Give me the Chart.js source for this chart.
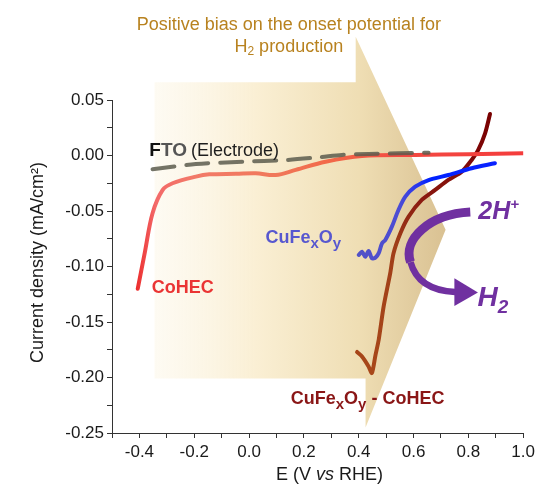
<!DOCTYPE html>
<html>
<head>
<meta charset="utf-8">
<script src="https://cdn.jsdelivr.net/npm/chart.js@4.4.1/dist/chart.umd.min.js"></script>
<style>
    html, body { margin: 0; padding: 0; background: #fff; }
    #caixa { width: 539px; height: 485px; }
</style>
</head>
<body>
<div id="caixa"><canvas id="grafico"></canvas></div>
<script>
// curvas: E (V vs RHE) e densidade de corrente (mA/cm2)
const ftoE = [-0.352, -0.194, -0.024, 0.133, 0.255, 0.339, 0.436, 0.655]
const ftoJ = [-0.0124, -0.0077, -0.0056, -0.0041, -0.0016, 0.0005, 0.0014, 0.0025]

const cohecE = [-0.406, -0.380, -0.352, -0.315, -0.279, -0.194, -0.145, -0.048, 0.024, 0.097, 0.170, 0.279, 0.412, 0.606, 0.800, 1.0]
const cohecJ = [-0.120, -0.087, -0.052, -0.031, -0.025, -0.019, -0.017, -0.0165, -0.016, -0.0176, -0.013, -0.0056, -0.0005, 0.0005, 0.0012, 0.002]

const cufeE = [0.400, 0.412, 0.424, 0.436, 0.448, 0.461, 0.473, 0.485, 0.497, 0.521, 0.545, 0.570, 0.606, 0.655, 0.727, 0.812, 0.897]
const cufeJ = [-0.0896, -0.0867, -0.0912, -0.086, -0.0926, -0.092, -0.088, -0.0791, -0.0761, -0.0641, -0.0491, -0.0371, -0.0281, -0.0221, -0.0176, -0.0115, -0.0070]

const mistoE = [0.394, 0.412, 0.436, 0.448, 0.461, 0.473, 0.491, 0.515, 0.527, 0.552, 0.582, 0.630, 0.679, 0.727, 0.776, 0.812, 0.836, 0.861, 0.879]
const mistoJ = [-0.177, -0.181, -0.190, -0.196, -0.180, -0.166, -0.136, -0.106, -0.088, -0.070, -0.055, -0.040, -0.031, -0.022, -0.0146, -0.004, 0.005, 0.020, 0.0374]

const eixoX = { min: -0.5, max: 1.0, passo: 0.1, rotulo: 0.2 }
const eixoY = { min: -0.25, max: 0.05, passo: 0.025, rotulo: 0.05 }

const fonte = '"Liberation Sans", Arial, sans-serif'

function pontos(xs, ys) {
    return xs.map((x, i) => ({ x: x, y: ys[i] }))
}

function multiplo(v, m) {
    return Math.abs(Math.round(v / m) * m - v) < 1e-6
}

// gradiente ao longo de um eixo, paradas em unidades de dados
function gradiente(chart, eixo, paradas, reserva) {
    if (!chart.chartArea) return reserva
    const ctx = chart.ctx
    const s = chart.scales[eixo]
    const a = s.getPixelForValue(paradas[0][0])
    const b = s.getPixelForValue(paradas[paradas.length - 1][0])
    const g = eixo === 'x' ? ctx.createLinearGradient(a, 0, b, 0) : ctx.createLinearGradient(0, a, 0, b)
    paradas.forEach(p => {
        g.addColorStop((s.getPixelForValue(p[0]) - a) / (b - a), p[1])
    })
    return g
}

function textoRico(ctx, x, y, partes) {
    let cx = x
    partes.forEach(p => {
        ctx.font = p.f
        ctx.fillStyle = p.c
        ctx.fillText(p.t, cx, y + (p.dy || 0))
        cx += ctx.measureText(p.t).width + (p.esp || 0)
    })
}

const anotacoes = {
    id: 'anotacoes',
    beforeDatasetsDraw(chart) {
        const ctx = chart.ctx
        const sx = chart.scales.x, sy = chart.scales.y
        const p = (x, y) => [sx.getPixelForValue(x), sy.getPixelForValue(y)]

        // seta larga de fundo
        const seta = [[-0.345, 0.066], [0.389, 0.066], [0.389, 0.107], [0.717, -0.067],
                      [0.425, -0.245], [0.425, -0.201], [-0.345, -0.201]]
        ctx.save()
        ctx.beginPath()
        seta.forEach((v, i) => {
            const q = p(v[0], v[1])
            if (i === 0) ctx.moveTo(q[0], q[1]); else ctx.lineTo(q[0], q[1])
        })
        ctx.closePath()
        const g = ctx.createLinearGradient(p(-0.35, 0)[0], 0, p(0.72, 0)[0], 0)
        g.addColorStop(0, 'rgba(253,249,238,0.7)')
        g.addColorStop(0.35, '#faefd4')
        g.addColorStop(0.7, '#efdeb4')
        g.addColorStop(1, '#d9c192')
        ctx.fillStyle = g
        ctx.fill()
        ctx.restore()
    },
    afterDatasetsDraw(chart) {
        const ctx = chart.ctx
        const sx = chart.scales.x, sy = chart.scales.y
        const p = (x, y) => [sx.getPixelForValue(x), sy.getPixelForValue(y)]
        ctx.save()
        ctx.textBaseline = 'alphabetic'
        ctx.textAlign = 'left'

        // seta roxa 2H+ -> H2
        const roxo = '#7030a0'
        const a = p(0.807, -0.051), c1 = p(0.655, -0.053), c2 = p(0.560, -0.076), m = p(0.589, -0.096)
        const c3 = p(0.611, -0.116), c4 = p(0.680, -0.122), f = p(0.752, -0.123)
        ctx.strokeStyle = roxo
        ctx.lineCap = 'butt'
        ctx.lineWidth = 9
        ctx.beginPath()
        ctx.moveTo(a[0], a[1])
        ctx.bezierCurveTo(c1[0], c1[1], c2[0], c2[1], m[0], m[1])
        ctx.stroke()
        ctx.lineWidth = 6.5
        ctx.beginPath()
        ctx.moveTo(m[0], m[1])
        ctx.bezierCurveTo(c3[0], c3[1], c4[0], c4[1], f[0], f[1])
        ctx.stroke()
        const t1 = p(0.749, -0.1105), t2 = p(0.835, -0.1235), t3 = p(0.749, -0.1355)
        ctx.fillStyle = roxo
        ctx.beginPath()
        ctx.moveTo(t1[0], t1[1]); ctx.lineTo(t2[0], t2[1]); ctx.lineTo(t3[0], t3[1])
        ctx.closePath()
        ctx.fill()

        let q = p(0.836, -0.057)
        textoRico(ctx, q[0], q[1], [
            { t: '2H', f: 'italic bold 25px ' + fonte, c: roxo },
            { t: '+', f: 'italic bold 15px ' + fonte, c: roxo, dy: -10 }
        ])
        q = p(0.833, -0.136)
        textoRico(ctx, q[0], q[1], [
            { t: 'H', f: 'italic bold 28px ' + fonte, c: roxo },
            { t: '2', f: 'italic bold 19px ' + fonte, c: roxo, dy: 7 }
        ])

        // rotulos das curvas
        q = p(-0.364, 0.0)
        textoRico(ctx, q[0], q[1], [
            { t: 'F', f: 'bold 19px ' + fonte, c: '#111' },
            { t: 'TO', f: 'bold 19px ' + fonte, c: '#555', esp: 4 },
            { t: '(Electrode)', f: '18px ' + fonte, c: '#1e1e1e' }
        ])
        q = p(0.06, -0.079)
        textoRico(ctx, q[0], q[1], [
            { t: 'CuFe', f: 'bold 18px ' + fonte, c: '#5757cf' },
            { t: 'x', f: 'bold 15px ' + fonte, c: '#5757cf', dy: 5 },
            { t: 'O', f: 'bold 18px ' + fonte, c: '#5757cf' },
            { t: 'y', f: 'bold 15px ' + fonte, c: '#5757cf', dy: 5 }
        ])
        q = p(-0.355, -0.124)
        textoRico(ctx, q[0], q[1], [{ t: 'CoHEC', f: 'bold 18px ' + fonte, c: '#ea3434' }])
        q = p(0.152, -0.224)
        textoRico(ctx, q[0], q[1], [
            { t: 'CuFe', f: 'bold 18px ' + fonte, c: '#8a1616' },
            { t: 'x', f: 'bold 15px ' + fonte, c: '#8a1616', dy: 5 },
            { t: 'O', f: 'bold 18px ' + fonte, c: '#8a1616' },
            { t: 'y', f: 'bold 15px ' + fonte, c: '#8a1616', dy: 5 },
            { t: ' - CoHEC', f: 'bold 18px ' + fonte, c: '#8a1616' }
        ])

        // chamada do topo
        ctx.textAlign = 'center'
        ctx.font = '18px ' + fonte
        ctx.fillStyle = '#b8821f'
        q = p(0.145, 0.1135)
        ctx.fillText('Positive bias on the onset potential for', q[0], q[1])
        q = p(0.145, 0.0928)
        const w1 = ctx.measureText('H').width, w2 = (ctx.font = '12px ' + fonte, ctx.measureText('2').width)
        ctx.font = '18px ' + fonte
        const w3 = ctx.measureText(' production').width
        const x0 = q[0] - (w1 + w2 + w3) / 2
        ctx.textAlign = 'left'
        textoRico(ctx, x0, q[1], [
            { t: 'H', f: '18px ' + fonte, c: '#b8821f' },
            { t: '2', f: '12px ' + fonte, c: '#b8821f', dy: 3 },
            { t: ' production', f: '18px ' + fonte, c: '#b8821f' }
        ])
        ctx.restore()
    },
    afterDraw(chart) {
        const ctx = chart.ctx
        const area = chart.chartArea
        ctx.save()
        ctx.fillStyle = '#1a1a1a'
        ctx.textBaseline = 'alphabetic'
        // titulo do eixo x com "vs" em italico
        const partes = [
            { t: 'E (V ', f: '18px ' + fonte, c: '#1a1a1a' },
            { t: 'vs', f: 'italic 18px ' + fonte, c: '#1a1a1a' },
            { t: ' RHE)', f: '18px ' + fonte, c: '#1a1a1a' }
        ]
        let w = 0
        partes.forEach(pt => { ctx.font = pt.f; w += ctx.measureText(pt.t).width })
        textoRico(ctx, (area.left + area.right) / 2 + 12 - w / 2, area.bottom + 47, partes)
        // titulo do eixo y
        ctx.translate(43, (area.top + area.bottom) / 2 - 4)
        ctx.rotate(-Math.PI / 2)
        ctx.textAlign = 'center'
        ctx.font = '18px ' + fonte
        ctx.fillText('Current density (mA/cm\u00B2)', 0, 0)
        ctx.restore()
    }
}

const ctx = document.getElementById('grafico').getContext('2d')
const grafico = new Chart(ctx, {
    type: 'line',
    data: {
        datasets: [
            {
                label: 'FTO (Electrode)',
                data: pontos(ftoE, ftoJ),
                borderColor: 'rgba(92,92,78,0.85)',
                borderWidth: 4,
                borderDash: [22, 12],
                tension: 0.3
            },
            {
                label: 'CoHEC',
                data: pontos(cohecE, cohecJ),
                borderColor: c => gradiente(c.chart, 'x', [[-0.41, '#ec2e2e'], [-0.34, '#f36a6a'], [-0.2, '#f27a68'],
                    [0.1, '#f0785a'], [0.3, '#f26848'], [0.55, '#f34a42'], [1.0, '#f43c3c']], '#f05050'),
                borderWidth: 4,
                tension: 0.35
            },
            {
                label: 'CuFexOy',
                data: pontos(cufeE, cufeJ),
                borderColor: c => gradiente(c.chart, 'x', [[0.40, '#5252c6'], [0.55, '#4c4cd4'], [0.62, '#2434f0'],
                    [0.66, '#0022ff'], [0.90, '#0a22ff']], '#3040e0'),
                borderWidth: 4,
                tension: 0.3
            },
            {
                label: 'CuFexOy - CoHEC',
                data: pontos(mistoE, mistoJ),
                borderColor: c => gradiente(c.chart, 'y', [[-0.2, '#a8481a'], [-0.08, '#a03e18'], [-0.04, '#8a1a10'],
                    [0.0, '#7e0606'], [0.04, '#780000']], '#902010'),
                borderWidth: 4,
                tension: 0.25
            }
        ]
    },
    options: {
        responsive: true,
        maintainAspectRatio: false,
        animation: false,
        parsing: true,
        elements: {
            point: { radius: 0 },
            line: { borderCapStyle: 'round', borderJoinStyle: 'round' }
        },
        layout: { padding: { top: 100, right: 14, left: 0, bottom: 0 } },
        plugins: {
            legend: { display: false },
            tooltip: { enabled: false }
        },
        scales: {
            x: {
                type: 'linear',
                min: eixoX.min,
                max: eixoX.max,
                afterFit: s => { s.height = 52 },
                border: { display: true, color: '#333', width: 1 },
                grid: { drawOnChartArea: false, drawTicks: true, tickLength: 5, color: '#333' },
                ticks: {
                    stepSize: eixoX.passo,
                    autoSkip: false,
                    maxRotation: 0,
                    padding: 4,
                    color: '#1a1a1a',
                    font: { family: fonte, size: 17 },
                    callback: v => multiplo(v, eixoX.rotulo) ? (Math.abs(v) < 1e-9 ? 0 : v).toFixed(1) : ''
                }
            },
            y: {
                type: 'linear',
                min: eixoY.min,
                max: eixoY.max,
                afterFit: s => { s.width = 112 },
                border: { display: true, color: '#333', width: 1 },
                grid: { drawOnChartArea: false, drawTicks: true, tickLength: 5, color: '#333' },
                ticks: {
                    stepSize: eixoY.passo,
                    autoSkip: false,
                    padding: 3,
                    color: '#1a1a1a',
                    font: { family: fonte, size: 17 },
                    callback: v => multiplo(v, eixoY.rotulo) ? (Math.abs(v) < 1e-9 ? 0 : v).toFixed(2) : ''
                }
            }
        }
    },
    plugins: [anotacoes]
})
</script>
</body>
</html>
